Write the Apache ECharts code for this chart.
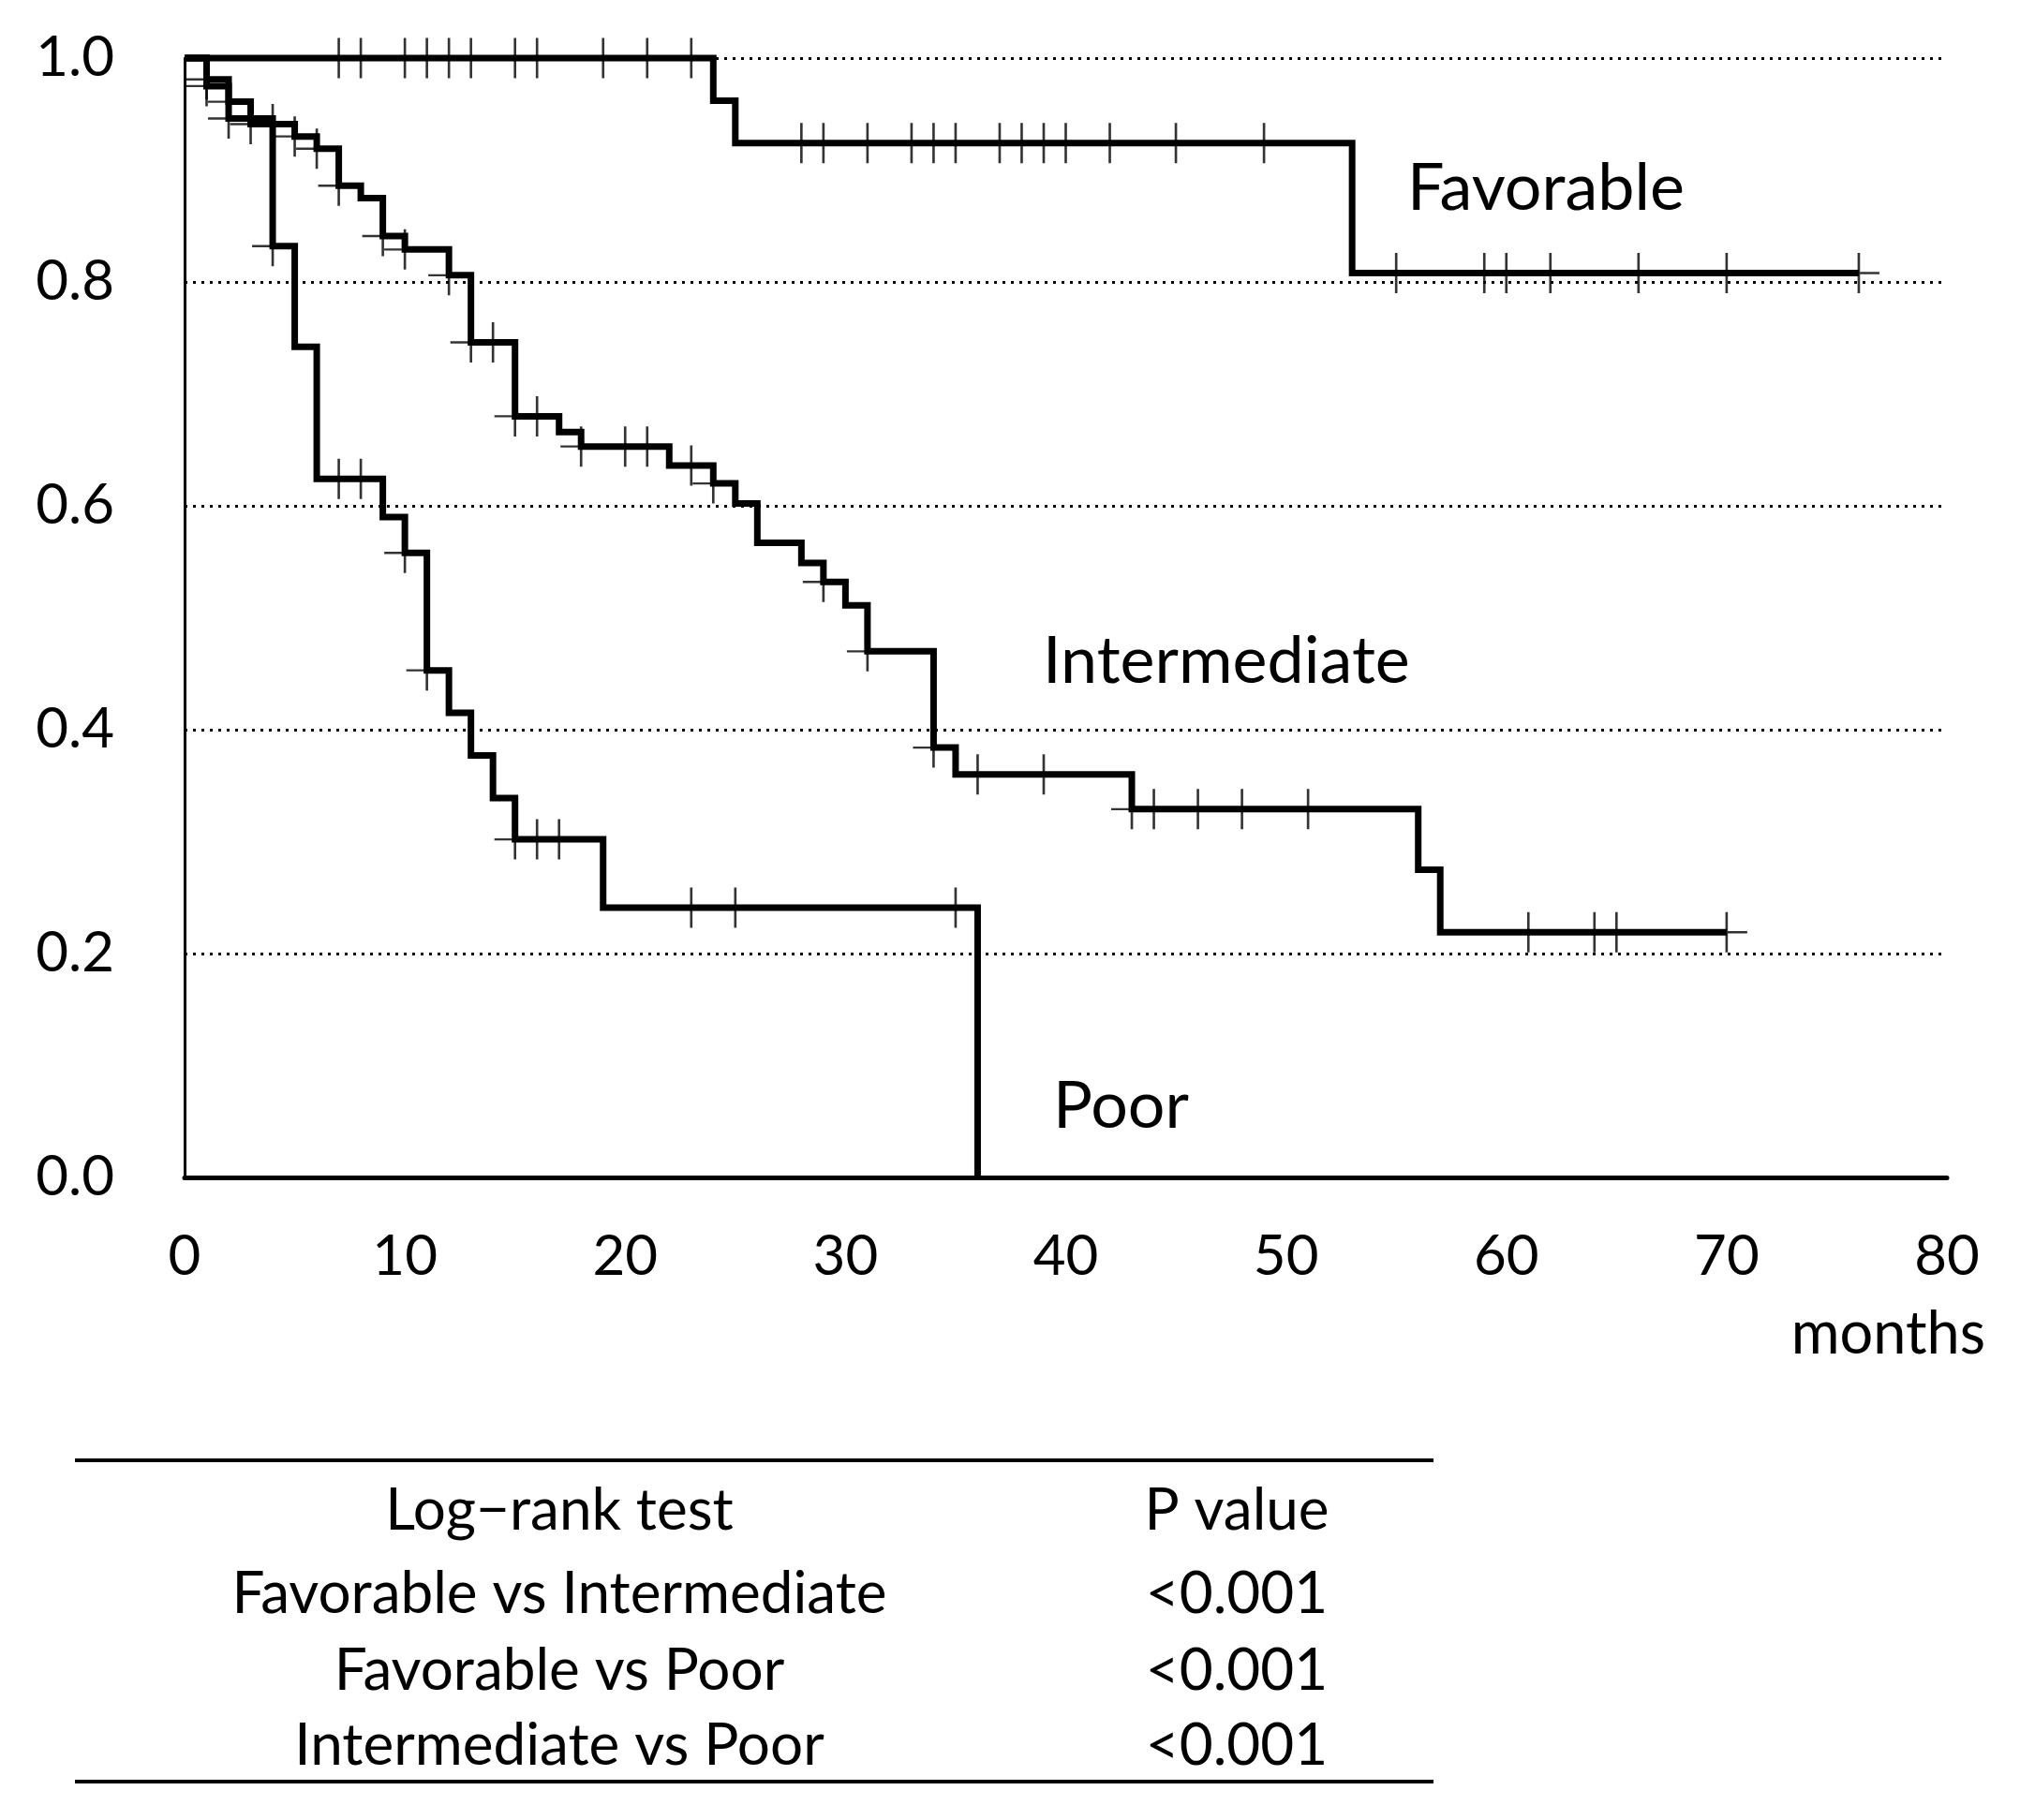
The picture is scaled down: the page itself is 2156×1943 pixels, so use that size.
<!DOCTYPE html>
<html>
<head>
<meta charset="utf-8">
<script src="https://cdn.jsdelivr.net/npm/echarts@6/dist/echarts.min.js"></script>
<style>
  html, body { margin: 0; padding: 0; background: #fff; }
  #chart { width: 2156px; height: 1943px; }
</style>
</head>
<body>
<div id="chart"></div>
<script>
// ---------------- data ----------------
const xTicks = [0, 10, 20, 30, 40, 50, 60, 70, 80];
const yTicks = [0.0, 0.2, 0.4, 0.6, 0.8, 1.0];

const favTimes = [0, 24, 25, 53, 76];
const favSurv  = [1.0, 0.962, 0.924, 0.808, 0.808];
const favCensor = [7, 8, 10, 11, 12, 13, 15, 16, 19, 21, 23, 28, 29, 31, 33, 34, 35, 37, 38, 39, 40, 42, 45, 49, 55, 59, 60, 62, 66, 70, 76];

const intTimes = [0, 1, 2, 3, 5, 6, 7, 8, 9, 10, 12, 13, 15, 17, 18, 22, 24, 25, 26, 28, 29, 30, 31, 34, 35, 43, 56, 57, 70];
const intSurv  = [1.0, 0.981, 0.961, 0.941, 0.930, 0.919, 0.886, 0.875, 0.841, 0.829, 0.806, 0.746, 0.680, 0.666, 0.653, 0.636, 0.620, 0.602, 0.567, 0.549, 0.532, 0.511, 0.470, 0.384, 0.360, 0.329, 0.275, 0.219, 0.219];
const intCensor = [1, 2, 3, 4, 5, 6, 7, 9, 10, 12, 13, 14, 15, 16, 18, 20, 21, 23, 24, 29, 31, 34, 36, 39, 43, 44, 46, 48, 51, 61, 64, 65, 70];

const poorTimes = [0, 1, 2, 4, 5, 6, 9, 10, 11, 12, 13, 14, 15, 19, 36];
const poorSurv  = [1.0, 0.975, 0.946, 0.832, 0.742, 0.624, 0.590, 0.558, 0.453, 0.415, 0.377, 0.339, 0.302, 0.241, 0.0];
const poorCensor = [1, 2, 4, 7, 8, 10, 11, 15, 16, 17, 23, 25, 35];

const curveLabels = ['Favorable', 'Intermediate', 'Poor'];
const xAxisName = 'months';
const tableHeader = ['Log\u2212rank test', 'P value'];
const tableRows = [
  ['Favorable vs Intermediate', '<0.001'],
  ['Favorable vs Poor', '<0.001'],
  ['Intermediate vs Poor', '<0.001']
];

// ---------------- helpers ----------------
function stepData(times, surv) {
  return times.map((t, i) => [t, surv[i]]);
}
function survAt(times, surv, t) {
  let v = surv[0];
  for (let i = 0; i < times.length; i++) { if (times[i] <= t) v = surv[i]; }
  return v;
}
function censorData(times, surv, cens) {
  return cens.map(t => [t, survAt(times, surv, t)]);
}

const FONT = 'Lato, "Open Sans", sans-serif';
const PLUS = 'path://M188,0 H212 V203 H400 V227 H212 V430 H188 V227 H0 V203 H188 Z';

function lineSeries(name, times, surv) {
  return {
    name, type: 'line', step: 'end', clip: false, symbol: 'none', silent: true,
    lineStyle: { color: '#000', width: 7, cap: 'butt', join: 'miter' },
    data: stepData(times, surv), z: 3
  };
}
function censorSeries(name, times, surv, cens) {
  return {
    name: name + ' censored', type: 'scatter', clip: false, silent: true,
    symbol: PLUS, symbolSize: [44, 43], symbolKeepAspect: false,
    itemStyle: { color: '#000' },
    data: censorData(times, surv, cens), z: 4
  };
}

const chart = echarts.init(document.getElementById('chart'), null, { renderer: 'canvas' });

// graphic elements: curve labels, axis name, table
const graphics = [];
const labelPos = [[1502, 201], [1113, 706], [1124, 1181]];
curveLabels.forEach((t, i) => {
  graphics.push({ type: 'text', x: labelPos[i][0], y: labelPos[i][1],
    style: { text: t, fill: '#000', fontSize: 70, fontFamily: FONT, align: 'left', verticalAlign: 'middle' } });
});
graphics.push({ type: 'text', x: 2119, y: 1425,
  style: { text: xAxisName, fill: '#000', fontSize: 63, fontFamily: FONT, align: 'right', verticalAlign: 'middle' } });

const tblLeft = 80, tblRight = 1530, tblTop = 1559, tblBottom = 1902;
graphics.push({ type: 'line', shape: { x1: tblLeft, y1: tblTop, x2: tblRight, y2: tblTop }, style: { stroke: '#000', lineWidth: 4 } });
graphics.push({ type: 'line', shape: { x1: tblLeft, y1: tblBottom, x2: tblRight, y2: tblBottom }, style: { stroke: '#000', lineWidth: 4 } });
const colX = [597, 1320];
const rowY = [1613, 1702, 1784, 1864];
[tableHeader].concat(tableRows).forEach((row, r) => {
  row.forEach((cell, c) => {
    graphics.push({ type: 'text', x: colX[c], y: rowY[r],
      style: { text: cell, fill: '#000', fontSize: 62, fontFamily: FONT, align: 'center', verticalAlign: 'middle' } });
  });
});

const option = {
  backgroundColor: '#fff',
  animation: false,
  grid: { left: 197, right: 78, top: 62, bottom: 686, containLabel: false },
  xAxis: {
    type: 'value', min: xTicks[0], max: xTicks[xTicks.length - 1], interval: 10,
    axisLine: { show: true, onZero: false, lineStyle: { color: '#000', width: 5 } },
    axisTick: { show: false },
    splitLine: { show: false },
    axisLabel: { color: '#000', fontSize: 60, fontFamily: FONT, margin: 55 }
  },
  yAxis: {
    type: 'value', min: yTicks[0], max: yTicks[yTicks.length - 1], interval: 0.2,
    axisLine: { show: true, onZero: false, lineStyle: { color: '#000', width: 3 } },
    axisTick: { show: false },
    splitLine: { show: true, lineStyle: { color: '#000', width: 3, type: [3, 6] } },
    axisLabel: { color: '#000', fontSize: 60, fontFamily: FONT, margin: 75,
      formatter: v => v.toFixed(1) }
  },
  series: [
    lineSeries('Favorable', favTimes, favSurv),
    lineSeries('Intermediate', intTimes, intSurv),
    lineSeries('Poor', poorTimes, poorSurv),
    censorSeries('Favorable', favTimes, favSurv, favCensor),
    censorSeries('Intermediate', intTimes, intSurv, intCensor),
    censorSeries('Poor', poorTimes, poorSurv, poorCensor)
  ],
  graphic: graphics
};
chart.setOption(option);
</script>
</body>
</html>
